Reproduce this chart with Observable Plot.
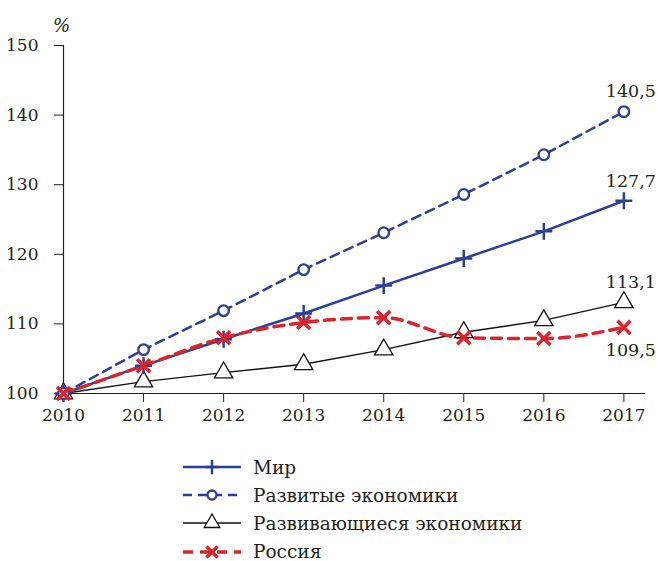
<!DOCTYPE html>
<html><head><meta charset="utf-8">
<script src="https://cdn.jsdelivr.net/npm/d3@7"></script>
<script src="https://cdn.jsdelivr.net/npm/@observablehq/plot@0.6"></script>
<style>
body{margin:0;background:#fff;font-family:"DejaVu Serif",serif;color:#231f20;}
#legend{position:relative;margin-left:183px;margin-top:18px;}
.row{display:flex;align-items:center;height:28.2px;font-size:18.5px;}
.row svg{margin-right:12px;}
</style>
</head><body>
<div id="chart"></div>
<div id="legend"></div>
<script>
const years = [2010, 2011, 2012, 2013, 2014, 2015, 2016, 2017];
const seriesNames = ["Мир", "Развитые экономики", "Развивающиеся экономики", "Россия"];
const world = [100, 104.0, 107.8, 111.5, 115.5, 119.4, 123.3, 127.7];
const developed = [100, 106.3, 111.9, 117.8, 123.1, 128.6, 134.3, 140.5];
const developing = [100, 101.7, 103.0, 104.2, 106.3, 108.8, 110.5, 113.1];
const russia = [100, 104.0, 108.0, 110.2, 110.9, 108.0, 107.9, 109.5];
const endLabels = ["127,7", "140,5", "113,1", "109,5"];
const yTicks = [100, 110, 120, 130, 140, 150];

const FONT = "DejaVu Serif";
const valuesList = [world, developed, developing, russia];
const styles = [
  {color:"#2b3f95", width:2.5, dash:null, symbol:"plus", r:5.5, fill:"none", sw:2.5, dy:-19},
  {color:"#2b3f95", width:2.5, dash:"9,6", symbol:"circle", r:5.3, fill:"white", sw:2.3, dy:-20},
  {color:"#111", width:1.4, dash:null, symbol:"triangle", r:6.8, fill:"white", sw:1.3, dy:-20},
  {color:"#d8262e", width:3.5, dash:"10,7", symbol:"times", r:6, fill:"none", sw:3.5, dy:23}
];
const data = seriesNames.map((name, i) => years.map((y, j) => ({series:name, year:y, value:valuesList[i][j]})));

const marks = [];
marks.push(Plot.ruleY([100], {x1: 2010, x2: 2017.27, stroke:"#231f20", strokeWidth:1.2}));
marks.push(Plot.ruleX([2010], {y1: 100, y2: 150, stroke:"#231f20", strokeWidth:1.2}));
marks.push(Plot.axisX({ticks: years, tickFormat: d => String(d), tickSize: 9, tickPadding: 6, fontSize: 17, fontFamily:FONT, label:null, stroke:"#231f20", fill:"#231f20"}));
marks.push(Plot.axisY({ticks: yTicks, tickSize: 9, tickPadding: 16, fontSize: 17, fontFamily:FONT, label:null, stroke:"#231f20", fill:"#231f20"}));
marks.push(Plot.text(["%"], {frameAnchor:"top-left", textAnchor:"middle", dx: -2, dy: -26, fontSize: 18, fontStyle:"italic", fontFamily:FONT, fill:"#231f20"}));
const order = [2, 0, 1, 3];
for (const i of order) {
  const s = styles[i];
  marks.push(Plot.line(data[i], {x:"year", y:"value", stroke:s.color, strokeWidth:s.width, strokeDasharray:s.dash, curve: i === 3 ? "monotone-x" : "linear"}));
}
for (const i of order) {
  const s = styles[i];
  marks.push(Plot.dot(data[i], {x:"year", y:"value", symbol:()=>s.symbol, r:s.r, stroke:s.color, fill:s.fill, strokeWidth:s.sw}));
}
for (let i = 0; i < 4; i++) {
  const s = styles[i];
  const last = data[i][data[i].length-1];
  marks.push(Plot.text([last], {x:"year", y:"value", text:()=>endLabels[i], dx:7, dy:s.dy, fontSize:17.5, fontFamily:FONT, fill:"#231f20"}));
}

const chart = Plot.plot({
  width: 658, height: 435,
  marginLeft: 63, marginRight: 13, marginTop: 45, marginBottom: 42,
  style: {fontFamily:FONT, color:"#231f20", background:"white", overflow:"visible"},
  x: {domain:[2010, 2017.27]},
  y: {domain:[100, 150]},
  symbol: {type:"identity"},
  marks
});
document.getElementById("chart").appendChild(chart);

const legend = d3.select("#legend");
for (let i = 0; i < 4; i++) {
  const s = styles[i];
  const row = legend.append("div").attr("class","row");
  const svg = row.append("svg").attr("width", 58).attr("height", 20);
  svg.append("line").attr("x1",0).attr("x2",58).attr("y1",10).attr("y2",10)
    .attr("stroke", s.color).attr("stroke-width", s.width).attr("stroke-dasharray", s.dash || null);
  const sym = {plus:d3.symbolPlus, circle:d3.symbolCircle, triangle:d3.symbolTriangle, times:d3.symbolTimes}[s.symbol];
  const rr = s.r * 0.85;
  svg.append("path").attr("transform","translate(29,10)")
    .attr("d", d3.symbol(sym, Math.PI * rr * rr)())
    .attr("fill", s.fill === "none" ? "none" : "white").attr("stroke", s.color).attr("stroke-width", s.sw);
  row.append("span").text(seriesNames[i]);
}
</script>
</body></html>
